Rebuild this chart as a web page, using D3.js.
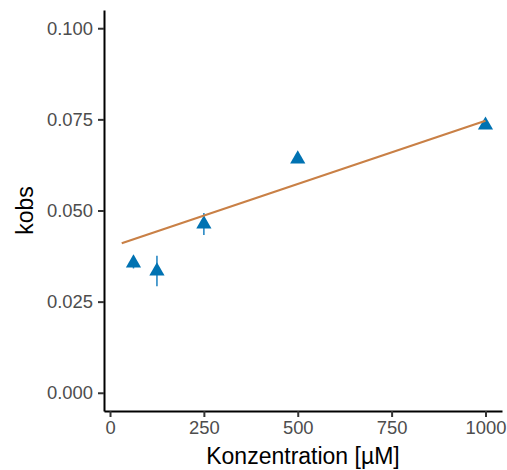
<!DOCTYPE html>
<html><head><meta charset="utf-8">
<script src="https://cdn.jsdelivr.net/npm/d3@7"></script>
<style>body{margin:0;background:#fff}svg{display:block}</style>
</head><body>
<script>
const conc = [62.5, 125, 250, 500, 1000];
const kobs = [0.0356, 0.0334, 0.0463, 0.0641, 0.0734];
const kobsErr = [0.0015, 0.0042, 0.0030, 0.0008, 0.0008];
const fitX = [31.25, 1000];
const fitY = [0.0410, 0.0746];
const xTicks = [0, 250, 500, 750, 1000];
const yTicks = [0, 0.025, 0.05, 0.075, 0.1];

const W = 507, H = 470;
const svg = d3.select("body").append("svg").attr("width", W).attr("height", H);
const x = d3.scaleLinear().domain([-16, 1044]).range([104, 502]);
const y = d3.scaleLinear().domain([-0.005, 0.105]).range([411, 10]);
const font = "Liberation Sans, Arial, sans-serif";

const xAxis = svg.append("g").attr("transform", "translate(0,411)")
  .call(d3.axisBottom(x).tickValues(xTicks).tickFormat(d3.format("d")).tickSize(6).tickPadding(4).tickSizeOuter(0));
const yAxis = svg.append("g").attr("transform", "translate(104,0)")
  .call(d3.axisLeft(y).tickValues(yTicks).tickFormat(d3.format(".3f")).tickSize(6).tickPadding(5).tickSizeOuter(0));
[xAxis, yAxis].forEach(g => {
  g.select(".domain").attr("stroke", "#000").attr("stroke-width", 2);
  g.selectAll(".tick line").attr("stroke", "#333").attr("stroke-width", 2);
  g.selectAll(".tick text").attr("fill", "#4D4D4D").style("font-family", font).style("font-size", "18.4px");
});

svg.append("text").attr("x", 303).attr("y", 464).attr("text-anchor", "middle")
  .style("font-family", font).style("font-size", "23px").attr("fill", "#000").text("Konzentration [µM]");
svg.append("text").attr("transform", "translate(33,210.5) rotate(-90)").attr("text-anchor", "middle")
  .style("font-family", font).style("font-size", "23px").attr("fill", "#000").text("kobs");

const pts = conc.map((c, i) => ({c, k: kobs[i], e: kobsErr[i]}));
svg.append("g").selectAll("line").data(pts).join("line")
  .attr("x1", d => x(d.c)).attr("x2", d => x(d.c))
  .attr("y1", d => y(d.k - d.e)).attr("y2", d => y(d.k + d.e))
  .attr("stroke", "#1a80c0").attr("stroke-width", 1.5);
svg.append("g").selectAll("path").data(pts).join("path")
  .attr("d", d3.symbol(d3.symbolTriangle, 100))
  .attr("transform", d => `translate(${x(d.c)},${y(d.k)})`)
  .attr("fill", "#0072B2");

const line = d3.line().x(d => x(d[0])).y(d => y(d[1]));
svg.append("path").datum(fitX.map((v, i) => [v, fitY[i]]))
  .attr("d", line).attr("fill", "none").attr("stroke", "#C98046").attr("stroke-width", 2.2);
</script>
</body></html>
